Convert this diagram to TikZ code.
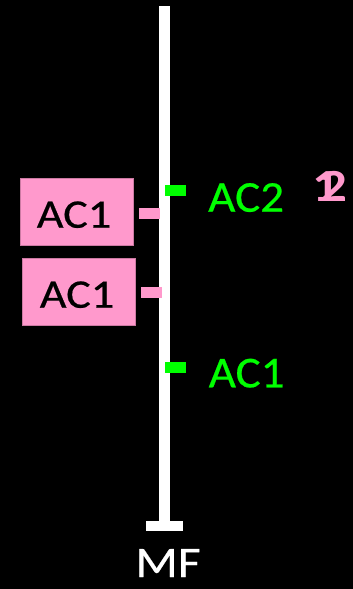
\documentclass[tikz,border=0pt]{standalone}
\usepackage{fontspec}
\setmainfont{Carlito}
\newfontfamily\lblfont[FakeStretch=1.07,FakeBold=0.5]{Carlito}
\newfontfamily\widefont[FakeStretch=1.14,FakeBold=0.5]{Carlito}
\newfontfamily\digfont[FakeStretch=1.15]{Carlito Bold}
\definecolor{pk}{HTML}{FF99CC}
\definecolor{gr}{HTML}{00FF00}
\begin{document}
\begin{tikzpicture}[x=1pt,y=-1pt,
  big/.style={inner sep=0pt, font=\lblfont\fontsize{44}{50}\selectfont},
  boxtxt/.style={inner sep=0pt, anchor=base, font=\widefont\fontsize{40.5}{46}\selectfont, text=black},
  digit/.style={inner sep=0pt, font=\digfont\fontsize{46}{52}\selectfont, text=pk},
  tick/.style={inner sep=0pt, minimum width=21pt, minimum height=11pt, draw=none},
  pbox/.style={fill=pk, draw=pk!80!black, line width=0.6pt, inner sep=0pt}]
\fill[black] (0,0) rectangle (353,589);
\useasboundingbox (0,0) rectangle (353,589);
% main bar and foot
\node[fill=white, inner sep=0pt, minimum width=11pt, minimum height=515.3pt] (bar) at (164,263.35) {};
\node[fill=white, inner sep=0pt, minimum width=36.5pt, minimum height=10pt] (foot) at (164.25,525.7) {};
% ticks
\node[tick, fill=gr] (g1) at (175.5,190.3) {};
\node[tick, fill=gr] (g2) at (175.4,367.8) {};
\node[tick, fill=pk] (p1) at (149.5,213.4) {};
\node[tick, fill=pk] (p2) at (151.8,292.8) {};
% pink boxes
\node[pbox, minimum width=113.3pt, minimum height=66.7pt] (b1) at (76.65,211.65) {};
\node[pbox, minimum width=113.4pt, minimum height=66.7pt] (b2) at (79,291.65) {};
\node[boxtxt] (t1) at (74,227.7) {AC1};
\node[boxtxt] (t2) at (77,307.7) {AC1};
% green labels
\node[big, anchor=base west, text=gr] (l1) at (208,211.7) {AC2};
\node[big, anchor=base west, text=gr] (l2) at (208.5,387.3) {AC1};
% pink overlapping numbers
\node[digit, anchor=base west] (n1) at (312,201.7) {1};
\node[digit, anchor=base west] (n2) at (320,201.7) {2};
% MF
\node[inner sep=0pt, anchor=base, text=white, font=\widefont\fontsize{43.5}{50}\selectfont] (mf) at (168,577) {MF};
\end{tikzpicture}
\end{document}
